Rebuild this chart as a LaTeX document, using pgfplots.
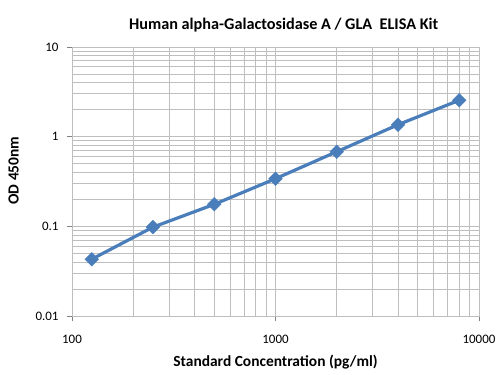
\documentclass[border=0pt]{standalone}
\usepackage{pgfplots}
\pgfplotsset{compat=1.18}
\usepackage{fontspec}
\setmainfont{Carlito}
\definecolor{excelblue}{RGB}{74,126,187}
\definecolor{gridgray}{RGB}{190,190,190}
\begin{document}
\begin{tikzpicture}[x=1bp,y=1bp]
\useasboundingbox (0,0) rectangle (499,374);
\begin{axis}[
  at={(72bp,58bp)}, anchor=south west,
  scale only axis, width=407bp, height=269bp,
  xmode=log, ymode=log,
  xmin=100, xmax=10000, ymin=0.01, ymax=10,
  log basis x=10, log basis y=10,
  xtick={100,1000,10000}, xticklabels={100,1000,10000},
  ytick={0.01,0.1,1,10}, yticklabels={0.01,0.1,1,10},
  minor xtick={200,300,400,500,600,700,800,900,2000,3000,4000,5000,6000,7000,8000,9000},
  minor ytick={0.02,0.03,0.04,0.05,0.06,0.07,0.08,0.09,0.2,0.3,0.4,0.5,0.6,0.7,0.8,0.9,2,3,4,5,6,7,8,9},
  xmajorgrids, ymajorgrids, xminorgrids, yminorgrids,
  major grid style={draw=gridgray, line width=0.8pt},
  minor grid style={draw=gridgray, line width=0.8pt},
  axis line style={draw=gridgray, line width=0.8pt},
  major tick style={draw=gray, line width=0.8pt},
  major tick length=5bp, minor tick length=0pt,
  tick align=outside,
  xtick pos=bottom, ytick pos=left,
  xticklabel style={font=\fontsize{13}{15}\selectfont, text=black, yshift=-11bp},
  yticklabel style={font=\fontsize{13}{15}\selectfont, text=black, xshift=-5bp},
  xlabel={\textbf{Standard Concentration (pg/ml)}},
  ylabel={\textbf{OD 450nm}},
  label style={font=\fontsize{15.5}{18}\selectfont},
  title={\textbf{Human alpha-Galactosidase A / GLA\ \ ELISA Kit}},
  title style={font=\fontsize{16.3}{19}\selectfont, at={(0.52,1)}, yshift=5bp},
  xlabel style={yshift=-4bp},
  ylabel style={yshift=10bp, xshift=11bp},
]
\addplot[color=excelblue, line width=3.2pt, mark=square*, mark size=4.9pt,
  mark options={fill=excelblue, draw=excelblue, line width=0.3pt, rotate=45}]
  coordinates {
  (125,0.043) (250,0.098) (500,0.176) (1000,0.34) (2000,0.68) (4000,1.36) (8000,2.55)
  };
\end{axis}
\end{tikzpicture}
\end{document}
